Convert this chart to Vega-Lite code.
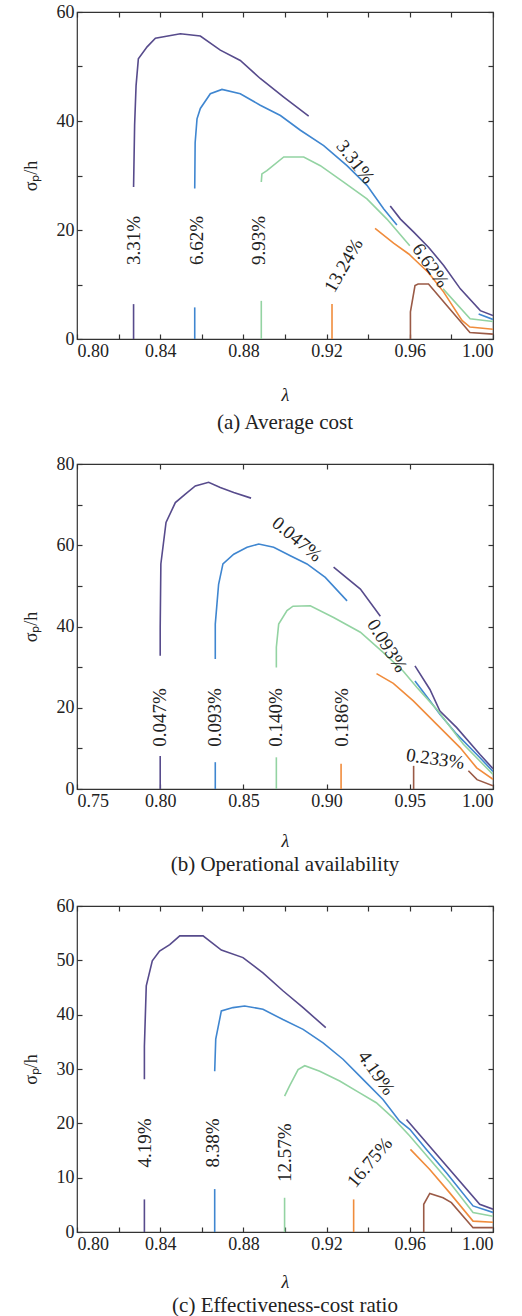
{
  "$schema": "https://vega.github.io/schema/vega-lite/v6.json",
  "background": "white",
  "padding": {"left": 21, "top": 2, "right": 5, "bottom": 5},
  "config": {
    "font": "Liberation Serif",
    "view": {"stroke": "#333", "strokeWidth": 1.2},
    "axis": {"domain": false, "grid": false, "tickColor": "#333", "tickSize": -5, "tickWidth": 1.2, "labelFont": "Liberation Serif", "labelFontSize": 18, "labelColor": "#222", "titleFont": "Liberation Serif", "titleFontSize": 18, "titleFontWeight": "normal", "titleColor": "#222"},
    "title": {"font": "Liberation Serif", "fontSize": 21, "fontWeight": "normal", "color": "#222", "orient": "bottom", "anchor": "middle"},
    "concat": {"spacing": 20}
  },
  "datasets": {
    "lines": [
      {"p":"a","s":"a1b","c":"1","i":1,"lam":0.8272,"sig":0},{"p":"a","s":"a1b","c":"1","i":2,"lam":0.8272,"sig":6.4},
      {"p":"a","s":"a1u","c":"1","i":1,"lam":0.8272,"sig":27.9},{"p":"a","s":"a1u","c":"1","i":2,"lam":0.8277,"sig":39.2},{"p":"a","s":"a1u","c":"1","i":3,"lam":0.8284,"sig":46.5},{"p":"a","s":"a1u","c":"1","i":4,"lam":0.8295,"sig":51.4},{"p":"a","s":"a1u","c":"1","i":5,"lam":0.8337,"sig":53.6},{"p":"a","s":"a1u","c":"1","i":6,"lam":0.8377,"sig":55.2},{"p":"a","s":"a1u","c":"1","i":7,"lam":0.8497,"sig":56.0},{"p":"a","s":"a1u","c":"1","i":8,"lam":0.8593,"sig":55.6},{"p":"a","s":"a1u","c":"1","i":9,"lam":0.8689,"sig":53.0},{"p":"a","s":"a1u","c":"1","i":10,"lam":0.8785,"sig":51.1},{"p":"a","s":"a1u","c":"1","i":11,"lam":0.8881,"sig":47.8},{"p":"a","s":"a1u","c":"1","i":12,"lam":0.8994,"sig":44.4},{"p":"a","s":"a1u","c":"1","i":13,"lam":0.9114,"sig":40.9},
      {"p":"a","s":"a1l","c":"1","i":1,"lam":0.9506,"sig":24.4},{"p":"a","s":"a1l","c":"1","i":2,"lam":0.9555,"sig":22.0},{"p":"a","s":"a1l","c":"1","i":3,"lam":0.9619,"sig":19.6},{"p":"a","s":"a1l","c":"1","i":4,"lam":0.9691,"sig":16.8},{"p":"a","s":"a1l","c":"1","i":5,"lam":0.9763,"sig":13.5},{"p":"a","s":"a1l","c":"1","i":6,"lam":0.9843,"sig":9.2},{"p":"a","s":"a1l","c":"1","i":7,"lam":0.9939,"sig":5.2},{"p":"a","s":"a1l","c":"1","i":8,"lam":1.0,"sig":4.3},
      {"p":"a","s":"a2b","c":"2","i":1,"lam":0.8566,"sig":0},{"p":"a","s":"a2b","c":"2","i":2,"lam":0.8566,"sig":5.8},
      {"p":"a","s":"a2u","c":"2","i":1,"lam":0.8566,"sig":27.6},{"p":"a","s":"a2u","c":"2","i":2,"lam":0.8568,"sig":36.0},{"p":"a","s":"a2u","c":"2","i":3,"lam":0.8577,"sig":40.4},{"p":"a","s":"a2u","c":"2","i":4,"lam":0.8593,"sig":42.3},{"p":"a","s":"a2u","c":"2","i":5,"lam":0.8641,"sig":45.0},{"p":"a","s":"a2u","c":"2","i":6,"lam":0.8697,"sig":45.8},{"p":"a","s":"a2u","c":"2","i":7,"lam":0.8785,"sig":45.0},{"p":"a","s":"a2u","c":"2","i":8,"lam":0.8881,"sig":42.9},{"p":"a","s":"a2u","c":"2","i":9,"lam":0.8978,"sig":41.0},{"p":"a","s":"a2u","c":"2","i":10,"lam":0.9074,"sig":38.3},{"p":"a","s":"a2u","c":"2","i":11,"lam":0.9186,"sig":35.5},{"p":"a","s":"a2u","c":"2","i":12,"lam":0.9298,"sig":31.8},{"p":"a","s":"a2u","c":"2","i":13,"lam":0.9394,"sig":28.2},{"p":"a","s":"a2u","c":"2","i":14,"lam":0.9474,"sig":23.9},{"p":"a","s":"a2u","c":"2","i":15,"lam":0.9538,"sig":20.9},
      {"p":"a","s":"a2l","c":"2","i":1,"lam":0.9931,"sig":4.6},{"p":"a","s":"a2l","c":"2","i":2,"lam":1.0,"sig":3.6},
      {"p":"a","s":"a3b","c":"3","i":1,"lam":0.8886,"sig":0},{"p":"a","s":"a3b","c":"3","i":2,"lam":0.8886,"sig":7.0},
      {"p":"a","s":"a3u","c":"3","i":1,"lam":0.8886,"sig":28.8},{"p":"a","s":"a3u","c":"3","i":2,"lam":0.8889,"sig":30.3},{"p":"a","s":"a3u","c":"3","i":3,"lam":0.8913,"sig":30.9},{"p":"a","s":"a3u","c":"3","i":4,"lam":0.8994,"sig":33.4},{"p":"a","s":"a3u","c":"3","i":5,"lam":0.909,"sig":33.4},{"p":"a","s":"a3u","c":"3","i":6,"lam":0.917,"sig":31.8},{"p":"a","s":"a3u","c":"3","i":7,"lam":0.9282,"sig":28.8},{"p":"a","s":"a3u","c":"3","i":8,"lam":0.9394,"sig":25.7},{"p":"a","s":"a3u","c":"3","i":9,"lam":0.949,"sig":22.0},{"p":"a","s":"a3u","c":"3","i":10,"lam":0.960,"sig":17.1},
      {"p":"a","s":"a3l","c":"3","i":1,"lam":0.976,"sig":9.2},{"p":"a","s":"a3l","c":"3","i":2,"lam":0.989,"sig":3.7},{"p":"a","s":"a3l","c":"3","i":3,"lam":1.0,"sig":3.2},
      {"p":"a","s":"a4b","c":"4","i":1,"lam":0.9226,"sig":0},{"p":"a","s":"a4b","c":"4","i":2,"lam":0.9226,"sig":6.4},
      {"p":"a","s":"a4u","c":"4","i":1,"lam":0.9433,"sig":20.3},{"p":"a","s":"a4u","c":"4","i":2,"lam":0.9522,"sig":17.6},{"p":"a","s":"a4u","c":"4","i":3,"lam":0.9595,"sig":15.6},{"p":"a","s":"a4u","c":"4","i":4,"lam":0.9689,"sig":12.2},{"p":"a","s":"a4u","c":"4","i":5,"lam":0.9763,"sig":8.6},{"p":"a","s":"a4u","c":"4","i":6,"lam":0.9851,"sig":3.4},{"p":"a","s":"a4u","c":"4","i":7,"lam":0.9889,"sig":2.2},{"p":"a","s":"a4u","c":"4","i":8,"lam":1.0,"sig":1.8},
      {"p":"a","s":"a5","c":"5","i":1,"lam":0.9603,"sig":0},{"p":"a","s":"a5","c":"5","i":2,"lam":0.9603,"sig":5.0},{"p":"a","s":"a5","c":"5","i":3,"lam":0.9625,"sig":9.8},{"p":"a","s":"a5","c":"5","i":4,"lam":0.964,"sig":10.1},{"p":"a","s":"a5","c":"5","i":5,"lam":0.969,"sig":10.1},{"p":"a","s":"a5","c":"5","i":6,"lam":0.9779,"sig":6.1},{"p":"a","s":"a5","c":"5","i":7,"lam":0.9889,"sig":1.2},{"p":"a","s":"a5","c":"5","i":8,"lam":1.0,"sig":0.9},

      {"p":"b","s":"b1b","c":"1","i":1,"lam":0.8,"sig":0},{"p":"b","s":"b1b","c":"1","i":2,"lam":0.8,"sig":8.1},
      {"p":"b","s":"b1u","c":"1","i":1,"lam":0.8,"sig":32.8},{"p":"b","s":"b1u","c":"1","i":2,"lam":0.8,"sig":39.8},{"p":"b","s":"b1u","c":"1","i":3,"lam":0.8004,"sig":55.4},{"p":"b","s":"b1u","c":"1","i":4,"lam":0.8035,"sig":65.6},{"p":"b","s":"b1u","c":"1","i":5,"lam":0.8091,"sig":70.5},{"p":"b","s":"b1u","c":"1","i":6,"lam":0.8151,"sig":72.6},{"p":"b","s":"b1u","c":"1","i":7,"lam":0.8211,"sig":74.6},{"p":"b","s":"b1u","c":"1","i":8,"lam":0.8291,"sig":75.5},{"p":"b","s":"b1u","c":"1","i":9,"lam":0.8361,"sig":74.2},{"p":"b","s":"b1u","c":"1","i":10,"lam":0.8442,"sig":73.0},{"p":"b","s":"b1u","c":"1","i":11,"lam":0.8546,"sig":71.6},
      {"p":"b","s":"b1m","c":"1","i":1,"lam":0.9042,"sig":54.6},{"p":"b","s":"b1m","c":"1","i":2,"lam":0.9203,"sig":49.2},{"p":"b","s":"b1m","c":"1","i":3,"lam":0.9323,"sig":42.5},
      {"p":"b","s":"b1l","c":"1","i":1,"lam":0.9531,"sig":30.3},{"p":"b","s":"b1l","c":"1","i":2,"lam":0.9621,"sig":24.5},{"p":"b","s":"b1l","c":"1","i":3,"lam":0.9681,"sig":19.2},{"p":"b","s":"b1l","c":"1","i":4,"lam":0.9782,"sig":15.1},{"p":"b","s":"b1l","c":"1","i":5,"lam":0.9922,"sig":8.5},{"p":"b","s":"b1l","c":"1","i":6,"lam":1.0,"sig":5.0},
      {"p":"b","s":"b2b","c":"2","i":1,"lam":0.8331,"sig":0},{"p":"b","s":"b2b","c":"2","i":2,"lam":0.8331,"sig":6.6},
      {"p":"b","s":"b2u","c":"2","i":1,"lam":0.8331,"sig":32.0},{"p":"b","s":"b2u","c":"2","i":2,"lam":0.8331,"sig":40.6},{"p":"b","s":"b2u","c":"2","i":3,"lam":0.8341,"sig":45.5},{"p":"b","s":"b2u","c":"2","i":4,"lam":0.8351,"sig":50.4},{"p":"b","s":"b2u","c":"2","i":5,"lam":0.8377,"sig":55.4},{"p":"b","s":"b2u","c":"2","i":6,"lam":0.8442,"sig":57.8},{"p":"b","s":"b2u","c":"2","i":7,"lam":0.8522,"sig":59.5},{"p":"b","s":"b2u","c":"2","i":8,"lam":0.8592,"sig":60.3},{"p":"b","s":"b2u","c":"2","i":9,"lam":0.8682,"sig":59.5},{"p":"b","s":"b2u","c":"2","i":10,"lam":0.8782,"sig":57.4},{"p":"b","s":"b2u","c":"2","i":11,"lam":0.8882,"sig":55.4},{"p":"b","s":"b2u","c":"2","i":12,"lam":0.8992,"sig":52.1},{"p":"b","s":"b2u","c":"2","i":13,"lam":0.9123,"sig":46.3},
      {"p":"b","s":"b2l","c":"2","i":1,"lam":0.9531,"sig":26.6},{"p":"b","s":"b2l","c":"2","i":2,"lam":0.9621,"sig":21.7},{"p":"b","s":"b2l","c":"2","i":3,"lam":0.9681,"sig":18.4},{"p":"b","s":"b2l","c":"2","i":4,"lam":0.9782,"sig":13.5},{"p":"b","s":"b2l","c":"2","i":5,"lam":0.9922,"sig":7.7},{"p":"b","s":"b2l","c":"2","i":6,"lam":1.0,"sig":4.3},
      {"p":"b","s":"b3b","c":"3","i":1,"lam":0.8698,"sig":0},{"p":"b","s":"b3b","c":"3","i":2,"lam":0.8698,"sig":7.8},
      {"p":"b","s":"b3u","c":"3","i":1,"lam":0.8698,"sig":29.9},{"p":"b","s":"b3u","c":"3","i":2,"lam":0.8698,"sig":34.9},{"p":"b","s":"b3u","c":"3","i":3,"lam":0.8712,"sig":40.6},{"p":"b","s":"b3u","c":"3","i":4,"lam":0.8762,"sig":43.9},{"p":"b","s":"b3u","c":"3","i":5,"lam":0.8798,"sig":45.0},{"p":"b","s":"b3u","c":"3","i":6,"lam":0.8902,"sig":45.1},{"p":"b","s":"b3u","c":"3","i":7,"lam":0.9042,"sig":42.2},{"p":"b","s":"b3u","c":"3","i":8,"lam":0.9203,"sig":38.6},{"p":"b","s":"b3u","c":"3","i":9,"lam":0.9343,"sig":33.5},{"p":"b","s":"b3u","c":"3","i":10,"lam":0.9461,"sig":29.0},{"p":"b","s":"b3u","c":"3","i":11,"lam":0.9543,"sig":25.0},{"p":"b","s":"b3u","c":"3","i":12,"lam":0.9662,"sig":19.6},{"p":"b","s":"b3u","c":"3","i":13,"lam":0.9822,"sig":11.0},{"p":"b","s":"b3u","c":"3","i":14,"lam":1.0,"sig":3.6},
      {"p":"b","s":"b4b","c":"4","i":1,"lam":0.9087,"sig":0},{"p":"b","s":"b4b","c":"4","i":2,"lam":0.9087,"sig":6.2},
      {"p":"b","s":"b4u","c":"4","i":1,"lam":0.93,"sig":28.4},{"p":"b","s":"b4u","c":"4","i":2,"lam":0.9401,"sig":26.0},{"p":"b","s":"b4u","c":"4","i":3,"lam":0.9521,"sig":21.7},{"p":"b","s":"b4u","c":"4","i":4,"lam":0.9662,"sig":15.9},{"p":"b","s":"b4u","c":"4","i":5,"lam":0.9802,"sig":10.2},{"p":"b","s":"b4u","c":"4","i":6,"lam":0.9902,"sig":5.2},{"p":"b","s":"b4u","c":"4","i":7,"lam":1.0,"sig":2.4},
      {"p":"b","s":"b5b","c":"5","i":1,"lam":0.9523,"sig":0},{"p":"b","s":"b5b","c":"5","i":2,"lam":0.9523,"sig":5.7},
      {"p":"b","s":"b5u","c":"5","i":1,"lam":0.9852,"sig":4.5},{"p":"b","s":"b5u","c":"5","i":2,"lam":0.9904,"sig":2.3},{"p":"b","s":"b5u","c":"5","i":3,"lam":1.0,"sig":0.8},

      {"p":"c","s":"c1b","c":"1","i":1,"lam":0.8324,"sig":0},{"p":"c","s":"c1b","c":"1","i":2,"lam":0.8324,"sig":6.0},
      {"p":"c","s":"c1u","c":"1","i":1,"lam":0.8324,"sig":28.1},{"p":"c","s":"c1u","c":"1","i":2,"lam":0.8324,"sig":34.2},{"p":"c","s":"c1u","c":"1","i":3,"lam":0.8333,"sig":45.3},{"p":"c","s":"c1u","c":"1","i":4,"lam":0.8362,"sig":49.9},{"p":"c","s":"c1u","c":"1","i":5,"lam":0.8397,"sig":51.7},{"p":"c","s":"c1u","c":"1","i":6,"lam":0.8446,"sig":52.9},{"p":"c","s":"c1u","c":"1","i":7,"lam":0.8494,"sig":54.5},{"p":"c","s":"c1u","c":"1","i":8,"lam":0.8606,"sig":54.5},{"p":"c","s":"c1u","c":"1","i":9,"lam":0.8694,"sig":51.9},{"p":"c","s":"c1u","c":"1","i":10,"lam":0.8798,"sig":50.5},{"p":"c","s":"c1u","c":"1","i":11,"lam":0.8894,"sig":47.7},{"p":"c","s":"c1u","c":"1","i":12,"lam":0.899,"sig":44.4},{"p":"c","s":"c1u","c":"1","i":13,"lam":0.9087,"sig":41.3},{"p":"c","s":"c1u","c":"1","i":14,"lam":0.9196,"sig":37.6},
      {"p":"c","s":"c1l","c":"1","i":1,"lam":0.9584,"sig":20.7},{"p":"c","s":"c1l","c":"1","i":2,"lam":0.9936,"sig":5.1},{"p":"c","s":"c1l","c":"1","i":3,"lam":1.0,"sig":4.2},
      {"p":"c","s":"c2b","c":"2","i":1,"lam":0.8662,"sig":0},{"p":"c","s":"c2b","c":"2","i":2,"lam":0.8662,"sig":7.9},
      {"p":"c","s":"c2u","c":"2","i":1,"lam":0.8662,"sig":29.6},{"p":"c","s":"c2u","c":"2","i":2,"lam":0.8667,"sig":35.5},{"p":"c","s":"c2u","c":"2","i":3,"lam":0.8694,"sig":40.7},{"p":"c","s":"c2u","c":"2","i":4,"lam":0.875,"sig":41.3},{"p":"c","s":"c2u","c":"2","i":5,"lam":0.8806,"sig":41.6},{"p":"c","s":"c2u","c":"2","i":6,"lam":0.8894,"sig":41.0},{"p":"c","s":"c2u","c":"2","i":7,"lam":0.899,"sig":39.1},{"p":"c","s":"c2u","c":"2","i":8,"lam":0.9087,"sig":37.3},{"p":"c","s":"c2u","c":"2","i":9,"lam":0.9183,"sig":34.8},{"p":"c","s":"c2u","c":"2","i":10,"lam":0.9279,"sig":31.8},{"p":"c","s":"c2u","c":"2","i":11,"lam":0.9375,"sig":28.1},{"p":"c","s":"c2u","c":"2","i":12,"lam":0.9471,"sig":24.4},{"p":"c","s":"c2u","c":"2","i":13,"lam":0.9551,"sig":20.4},{"p":"c","s":"c2u","c":"2","i":14,"lam":0.96,"sig":18.9},{"p":"c","s":"c2u","c":"2","i":15,"lam":0.968,"sig":15.2},{"p":"c","s":"c2u","c":"2","i":16,"lam":0.9776,"sig":10.9},{"p":"c","s":"c2u","c":"2","i":17,"lam":0.9904,"sig":4.8},{"p":"c","s":"c2u","c":"2","i":18,"lam":1.0,"sig":3.6},
      {"p":"c","s":"c3b","c":"3","i":1,"lam":0.8998,"sig":0},{"p":"c","s":"c3b","c":"3","i":2,"lam":0.8998,"sig":6.3},
      {"p":"c","s":"c3u","c":"3","i":1,"lam":0.8998,"sig":25.0},{"p":"c","s":"c3u","c":"3","i":2,"lam":0.9022,"sig":26.9},{"p":"c","s":"c3u","c":"3","i":3,"lam":0.9063,"sig":29.9},{"p":"c","s":"c3u","c":"3","i":4,"lam":0.9095,"sig":30.6},{"p":"c","s":"c3u","c":"3","i":5,"lam":0.9167,"sig":29.6},{"p":"c","s":"c3u","c":"3","i":6,"lam":0.9263,"sig":27.8},{"p":"c","s":"c3u","c":"3","i":7,"lam":0.9359,"sig":25.6},{"p":"c","s":"c3u","c":"3","i":8,"lam":0.9439,"sig":23.8},{"p":"c","s":"c3u","c":"3","i":9,"lam":0.9519,"sig":21.0},{"p":"c","s":"c3u","c":"3","i":10,"lam":0.9599,"sig":17.7},{"p":"c","s":"c3u","c":"3","i":11,"lam":0.9696,"sig":13.4},{"p":"c","s":"c3u","c":"3","i":12,"lam":0.9792,"sig":9.1},{"p":"c","s":"c3u","c":"3","i":13,"lam":0.9904,"sig":3.6},{"p":"c","s":"c3u","c":"3","i":14,"lam":1.0,"sig":2.9},
      {"p":"c","s":"c4b","c":"4","i":1,"lam":0.933,"sig":0},{"p":"c","s":"c4b","c":"4","i":2,"lam":0.933,"sig":6.0},
      {"p":"c","s":"c4u","c":"4","i":1,"lam":0.9603,"sig":15.2},{"p":"c","s":"c4u","c":"4","i":2,"lam":0.9696,"sig":11.5},{"p":"c","s":"c4u","c":"4","i":3,"lam":0.9792,"sig":7.2},{"p":"c","s":"c4u","c":"4","i":4,"lam":0.9904,"sig":2.0},{"p":"c","s":"c4u","c":"4","i":5,"lam":1.0,"sig":1.8},
      {"p":"c","s":"c5","c":"5","i":1,"lam":0.9667,"sig":0},{"p":"c","s":"c5","c":"5","i":2,"lam":0.9667,"sig":5.1},{"p":"c","s":"c5","c":"5","i":3,"lam":0.9696,"sig":7.1},{"p":"c","s":"c5","c":"5","i":4,"lam":0.976,"sig":6.3},{"p":"c","s":"c5","c":"5","i":5,"lam":0.98,"sig":5.4},{"p":"c","s":"c5","c":"5","i":6,"lam":0.9904,"sig":0.8},{"p":"c","s":"c5","c":"5","i":7,"lam":1.0,"sig":0.8}
    ],
    "labels": [
      {"p":"a","t":"3.31%","lam":0.8272,"sig":18.1,"ang":-90},
      {"p":"a","t":"6.62%","lam":0.8577,"sig":18.1,"ang":-90},
      {"p":"a","t":"9.93%","lam":0.8873,"sig":18.1,"ang":-90},
      {"p":"a","t":"13.24%","lam":0.9282,"sig":13.5,"ang":-60},
      {"p":"a","t":"3.31%","lam":0.9338,"sig":32.5,"ang":52},
      {"p":"a","t":"6.62%","lam":0.9699,"sig":13.5,"ang":55},
      {"p":"b","t":"0.047%","lam":0.8001,"sig":17.6,"ang":-90},
      {"p":"b","t":"0.093%","lam":0.8331,"sig":17.6,"ang":-90},
      {"p":"b","t":"0.140%","lam":0.8698,"sig":17.6,"ang":-90},
      {"p":"b","t":"0.186%","lam":0.9093,"sig":17.6,"ang":-90},
      {"p":"b","t":"0.047%","lam":0.8822,"sig":61.5,"ang":40},
      {"p":"b","t":"0.093%","lam":0.9363,"sig":35.3,"ang":58},
      {"p":"b","t":"0.233%","lam":0.9653,"sig":7.4,"ang":8},
      {"p":"c","t":"4.19%","lam":0.8325,"sig":16.4,"ang":-90},
      {"p":"c","t":"8.38%","lam":0.8654,"sig":16.4,"ang":-90},
      {"p":"c","t":"12.57%","lam":0.8998,"sig":14.6,"ang":-90},
      {"p":"c","t":"16.75%","lam":0.9407,"sig":12.8,"ang":-50},
      {"p":"c","t":"4.19%","lam":0.9439,"sig":29.3,"ang":55}
    ]
  },
  "vconcat": [
    {
      "width": 416, "height": 327,
      "title": {"text": "(a) Average cost", "offset": 8},
      "layer": [
        {
          "data": {"name": "lines"},
          "transform": [{"filter": "datum.p == 'a'"}],
          "mark": {"type": "line", "strokeWidth": 1.6, "clip": true},
          "encoding": {
            "x": {"field": "lam", "type": "quantitative", "scale": {"domain": [0.8, 1.0], "nice": false, "zero": false},
              "axis": {"orient": "bottom", "title": "λ", "titleFontStyle": "italic", "titlePadding": 26, "values": [0.8,0.82,0.84,0.86,0.88,0.9,0.92,0.94,0.96,0.98,1.0], "labelExpr": "(round(datum.value*100) - 80) % 4 == 0 ? format(datum.value, '.2f') : ''", "labelPadding": 8}},
            "y": {"field": "sig", "type": "quantitative", "scale": {"domain": [0, 60], "nice": false},
              "axis": {"orient": "left", "title": "σₚ/h", "titlePadding": 16, "values": [0,10,20,30,40,50,60], "labelExpr": "datum.value % 20 == 0 ? format(datum.value, 'd') : ''", "labelPadding": 8}},
            "color": {"field": "c", "type": "nominal", "scale": {"domain": ["1","2","3","4","5"], "range": ["#574b8c","#3f86d0","#93d3a2","#f08c3c","#9a5a46"]}, "legend": null},
            "detail": {"field": "s"},
            "order": {"field": "i", "type": "quantitative"}
          }
        },
        {
          "data": {"name": "labels"},
          "transform": [{"filter": "datum.p == 'a'"}],
          "mark": {"type": "text", "font": "Liberation Serif", "fontSize": 19, "color": "#222", "align": "center", "baseline": "middle"},
          "encoding": {
            "x": {"field": "lam", "type": "quantitative", "axis": {"orient": "top", "title": null, "labels": false, "values": [0.8,0.82,0.84,0.86,0.88,0.9,0.92,0.94,0.96,0.98,1.0]}},
            "y": {"field": "sig", "type": "quantitative", "axis": {"orient": "right", "title": null, "labels": false, "values": [0,10,20,30,40,50,60]}},
            "text": {"field": "t"},
            "angle": {"field": "ang", "type": "quantitative", "scale": null}
          }
        }
      ],
      "resolve": {"axis": {"x": "independent", "y": "independent"}}
    },
    {
      "width": 416, "height": 325,
      "title": {"text": "(b) Operational availability", "offset": 4},
      "layer": [
        {
          "data": {"name": "lines"},
          "transform": [{"filter": "datum.p == 'b'"}],
          "mark": {"type": "line", "strokeWidth": 1.6, "clip": true},
          "encoding": {
            "x": {"field": "lam", "type": "quantitative", "scale": {"domain": [0.75, 1.0], "nice": false, "zero": false},
              "axis": {"orient": "bottom", "title": "λ", "titleFontStyle": "italic", "titlePadding": 22, "values": [0.75,0.8,0.85,0.9,0.95,1.0], "format": ".2f", "labelPadding": 8}},
            "y": {"field": "sig", "type": "quantitative", "scale": {"domain": [0, 80], "nice": false},
              "axis": {"orient": "left", "title": "σₚ/h", "titlePadding": 16, "values": [0,10,20,30,40,50,60,70,80], "labelExpr": "datum.value % 20 == 0 ? format(datum.value, 'd') : ''", "labelPadding": 8}},
            "color": {"field": "c", "type": "nominal", "scale": {"domain": ["1","2","3","4","5"], "range": ["#574b8c","#3f86d0","#93d3a2","#f08c3c","#9a5a46"]}, "legend": null},
            "detail": {"field": "s"},
            "order": {"field": "i", "type": "quantitative"}
          }
        },
        {
          "data": {"name": "labels"},
          "transform": [{"filter": "datum.p == 'b'"}],
          "mark": {"type": "text", "font": "Liberation Serif", "fontSize": 19, "color": "#222", "align": "center", "baseline": "middle"},
          "encoding": {
            "x": {"field": "lam", "type": "quantitative", "axis": {"orient": "top", "title": null, "labels": false, "values": [0.75,0.8,0.85,0.9,0.95,1.0]}},
            "y": {"field": "sig", "type": "quantitative", "axis": {"orient": "right", "title": null, "labels": false, "values": [0,10,20,30,40,50,60,70,80]}},
            "text": {"field": "t"},
            "angle": {"field": "ang", "type": "quantitative", "scale": null}
          }
        }
      ],
      "resolve": {"axis": {"x": "independent", "y": "independent"}}
    },
    {
      "width": 416, "height": 326,
      "title": {"text": "(c) Effectiveness-cost ratio", "offset": 4},
      "layer": [
        {
          "data": {"name": "lines"},
          "transform": [{"filter": "datum.p == 'c'"}],
          "mark": {"type": "line", "strokeWidth": 1.6, "clip": true},
          "encoding": {
            "x": {"field": "lam", "type": "quantitative", "scale": {"domain": [0.8, 1.0], "nice": false, "zero": false},
              "axis": {"orient": "bottom", "title": "λ", "titleFontStyle": "italic", "titlePadding": 20, "values": [0.8,0.82,0.84,0.86,0.88,0.9,0.92,0.94,0.96,0.98,1.0], "labelExpr": "(round(datum.value*100) - 80) % 4 == 0 ? format(datum.value, '.2f') : ''", "labelPadding": 8}},
            "y": {"field": "sig", "type": "quantitative", "scale": {"domain": [0, 60], "nice": false},
              "axis": {"orient": "left", "title": "σₚ/h", "titlePadding": 16, "values": [0,10,20,30,40,50,60], "format": "d", "labelPadding": 8}},
            "color": {"field": "c", "type": "nominal", "scale": {"domain": ["1","2","3","4","5"], "range": ["#574b8c","#3f86d0","#93d3a2","#f08c3c","#9a5a46"]}, "legend": null},
            "detail": {"field": "s"},
            "order": {"field": "i", "type": "quantitative"}
          }
        },
        {
          "data": {"name": "labels"},
          "transform": [{"filter": "datum.p == 'c'"}],
          "mark": {"type": "text", "font": "Liberation Serif", "fontSize": 19, "color": "#222", "align": "center", "baseline": "middle"},
          "encoding": {
            "x": {"field": "lam", "type": "quantitative", "axis": {"orient": "top", "title": null, "labels": false, "values": [0.8,0.82,0.84,0.86,0.88,0.9,0.92,0.94,0.96,0.98,1.0]}},
            "y": {"field": "sig", "type": "quantitative", "axis": {"orient": "right", "title": null, "labels": false, "values": [0,10,20,30,40,50,60]}},
            "text": {"field": "t"},
            "angle": {"field": "ang", "type": "quantitative", "scale": null}
          }
        }
      ],
      "resolve": {"axis": {"x": "independent", "y": "independent"}}
    }
  ]
}
